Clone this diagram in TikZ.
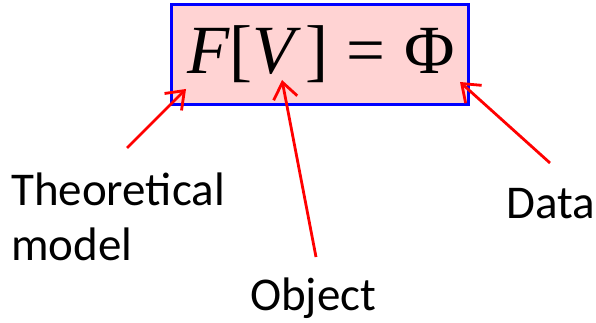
\documentclass[tikz,border=0pt]{standalone}
\usepackage{fontspec}
\setmainfont{Carlito}
\newfontfamily\formulafont{Liberation Serif}
\usetikzlibrary{arrows.meta}
\definecolor{boxpink}{RGB}{255,211,211}
\tikzset{
  pointer/.style={draw=red, line width=2.8pt, -{Straight Barb[length=16pt,width=24pt]}},
  label/.style={font=\fontsize{47}{55}\selectfont, inner sep=0pt}
}
\begin{document}
\begin{tikzpicture}[x=1pt,y=-1pt]
  \useasboundingbox (0,0) rectangle (596,323);
  % the equation
  \node[draw=blue, line width=3pt, fill=boxpink, minimum width=297pt, minimum height=100pt, inner sep=0pt]
        (eq) at (319.5,55) {};
  \node[font=\formulafont\fontsize{69}{69}\selectfont, inner sep=0pt, anchor=base] (formula) at (321,74)
        {\itshape F\upshape[\itshape V\upshape\hspace{0.16em}]\hspace{0.27em}=\hspace{0.27em}Φ};
  % labels
  \node[label, align=left, anchor=base west] (theory) at (11,260) {Theoretical\\model};
  \node[label, anchor=base west] (object) at (250,310) {Object};
  \node[label, anchor=base west] (data) at (506,218) {Data};
  \coordinate (theoryTail) at (127,148);
  \coordinate (theoryTip) at (186,89);
  \coordinate (objectTail) at (316,257);
  \coordinate (objectTip) at (282,80);
  \coordinate (dataTail) at (550,163);
  \coordinate (dataTip) at (460,82);
  \draw[pointer] (theoryTail) -- (theoryTip);
  \draw[pointer] (objectTail) -- (objectTip);
  \draw[pointer] (dataTail) -- (dataTip);
\end{tikzpicture}
\end{document}
